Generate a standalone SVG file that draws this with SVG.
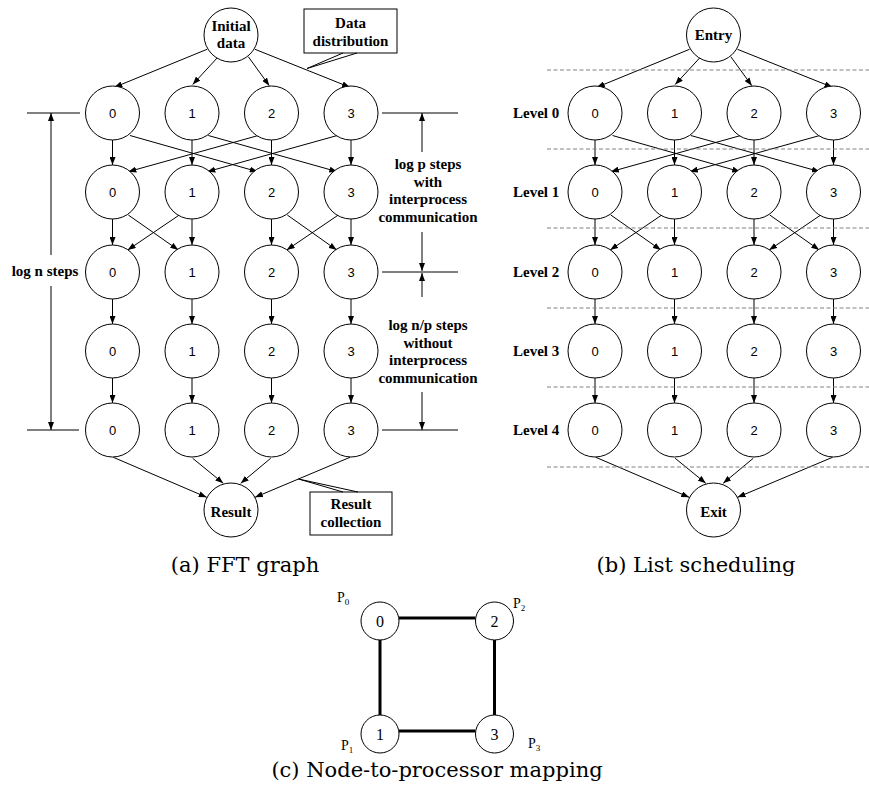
<svg xmlns="http://www.w3.org/2000/svg" width="869" height="798" viewBox="0 0 869 798">
<style>
.nd{fill:#fff;stroke:#000;stroke-width:1}
.num{font-family:"Liberation Sans",Arial,sans-serif;font-size:13px;text-anchor:middle;fill:#000}
.bl{font-family:"Liberation Serif","Times New Roman",serif;font-weight:bold;font-size:15px;fill:#000}
.mid{text-anchor:middle}
.e{fill:none;stroke:#000;stroke-width:1;marker-end:url(#ah)}
.ln{fill:none;stroke:#000;stroke-width:1}
.dash{fill:none;stroke:#808080;stroke-width:1;stroke-dasharray:4 2.5}
.cap{font-family:"DejaVu Serif",serif;font-size:21px;text-anchor:middle;fill:#000}
.thick{fill:none;stroke:#000;stroke-width:3}
.sn{font-family:"Liberation Serif","Times New Roman",serif;font-size:16px;text-anchor:middle;fill:#000}
.pl{font-family:"Liberation Serif","Times New Roman",serif;font-size:14px;fill:#000}
</style>
<defs>
<marker id="ah" markerUnits="userSpaceOnUse" markerWidth="8" markerHeight="6" refX="8" refY="3" orient="auto">
<path d="M0,0 L8,3 L0,6 z" fill="#000"/>
</marker>
</defs>

<!-- (a) connectors -->
<g id="connectors-a">
<path class="e" d="M207,49.3 L114.3,87.3"/>
<path class="e" d="M218.3,56.7 L192.7,84.5"/>
<path class="e" d="M248.3,56.7 L269.3,85.7"/>
<path class="e" d="M255,49.3 L350,87.3"/>
<path class="e" d="M112.5,140 L112.5,165"/>
<path class="e" d="M192,140 L192,165"/>
<path class="e" d="M271.5,140 L271.5,165"/>
<path class="e" d="M351,140 L351,165"/>
<path class="e" d="M130,135.5 L257.7,171.7"/>
<path class="e" d="M208.3,135.5 L337.3,171.7"/>
<path class="e" d="M258.3,135.5 L128.3,171.7"/>
<path class="e" d="M337.3,135.5 L207.3,171.7"/>
<path class="e" d="M112.5,219 L112.5,245"/>
<path class="e" d="M192,219 L192,245"/>
<path class="e" d="M271.5,219 L271.5,245"/>
<path class="e" d="M351,219 L351,245"/>
<path class="e" d="M128.3,215 L178.3,250"/>
<path class="e" d="M179.3,215 L127.7,250"/>
<path class="e" d="M287.3,215 L336.7,250"/>
<path class="e" d="M338.3,215 L286.7,250"/>
<path class="e" d="M112.5,299 L112.5,324"/>
<path class="e" d="M192,299 L192,324"/>
<path class="e" d="M271.5,299 L271.5,324"/>
<path class="e" d="M351,299 L351,324"/>
<path class="e" d="M112.5,378 L112.5,403"/>
<path class="e" d="M192,378 L192,403"/>
<path class="e" d="M271.5,378 L271.5,403"/>
<path class="e" d="M351,378 L351,403"/>
<path class="e" d="M113.3,457.3 L206.7,497.3"/>
<path class="e" d="M192.7,458.3 L223.3,483.3"/>
<path class="e" d="M270.7,458.3 L240.7,483.3"/>
<path class="e" d="M350,457.3 L255,497.3"/>
</g>

<!-- (b) connectors: same geometry shifted -->
<g id="connectors-b" transform="translate(482.5,0)">
<path class="e" d="M207,49.3 L114.3,87.3"/>
<path class="e" d="M218.3,56.7 L192.7,84.5"/>
<path class="e" d="M248.3,56.7 L269.3,85.7"/>
<path class="e" d="M255,49.3 L350,87.3"/>
<path class="e" d="M112.5,140 L112.5,165"/>
<path class="e" d="M192,140 L192,165"/>
<path class="e" d="M271.5,140 L271.5,165"/>
<path class="e" d="M351,140 L351,165"/>
<path class="e" d="M130,135.5 L257.7,171.7"/>
<path class="e" d="M208.3,135.5 L337.3,171.7"/>
<path class="e" d="M258.3,135.5 L128.3,171.7"/>
<path class="e" d="M337.3,135.5 L207.3,171.7"/>
<path class="e" d="M112.5,219 L112.5,245"/>
<path class="e" d="M192,219 L192,245"/>
<path class="e" d="M271.5,219 L271.5,245"/>
<path class="e" d="M351,219 L351,245"/>
<path class="e" d="M128.3,215 L178.3,250"/>
<path class="e" d="M179.3,215 L127.7,250"/>
<path class="e" d="M287.3,215 L336.7,250"/>
<path class="e" d="M338.3,215 L286.7,250"/>
<path class="e" d="M112.5,299 L112.5,324"/>
<path class="e" d="M192,299 L192,324"/>
<path class="e" d="M271.5,299 L271.5,324"/>
<path class="e" d="M351,299 L351,324"/>
<path class="e" d="M112.5,378 L112.5,403"/>
<path class="e" d="M192,378 L192,403"/>
<path class="e" d="M271.5,378 L271.5,403"/>
<path class="e" d="M351,378 L351,403"/>
<path class="e" d="M113.3,457.3 L206.7,497.3"/>
<path class="e" d="M192.7,458.3 L223.3,483.3"/>
<path class="e" d="M270.7,458.3 L240.7,483.3"/>
<path class="e" d="M350,457.3 L255,497.3"/>
</g>

<!-- (c) connectors -->
<g id="connectors-c">
<path class="thick" d="M399,618 L475.5,618"/>
<path class="thick" d="M399,731 L475.5,731"/>
<path class="thick" d="M380,640 L380,715"/>
<path class="thick" d="M494.5,640 L494.5,715"/>
</g>

<!-- (a) annotations -->
<g id="annot-left">
<path class="ln" d="M27,113 L80,113 M27,430 L79,430"/>
<path class="e" d="M51,255 L51,113"/>
<path class="e" d="M51,286 L51,430"/>
<text class="bl mid" x="45" y="276">log n steps</text>
</g>
<g id="annot-right">
<path class="ln" d="M382,113 L458,113 M382,272 L458,272 M382,430 L458,430"/>
<path class="e" d="M422,152 L422,113"/>
<path class="e" d="M422,232 L422,271"/>
<path class="e" d="M422,297 L422,273"/>
<path class="e" d="M422,392 L422,430"/>
<text class="bl mid" x="428" y="169">log p steps</text>
<text class="bl mid" x="428" y="186.5">with</text>
<text class="bl mid" x="428" y="204">interprocess</text>
<text class="bl mid" x="428" y="221.5">communication</text>
<text class="bl mid" x="428" y="330">log n/p steps</text>
<text class="bl mid" x="428" y="347.5">without</text>
<text class="bl mid" x="428" y="365">interprocess</text>
<text class="bl mid" x="428" y="382.5">communication</text>
</g>
<g id="callout-data">
<rect x="304" y="9" width="93" height="44" fill="#fff" stroke="#000"/>
<path class="ln" d="M343,53 L307,68.5 L357,53"/>
<text class="bl mid" x="350.5" y="28">Data</text>
<text class="bl mid" x="350.5" y="45.5">distribution</text>
</g>
<g id="callout-result">
<rect x="310" y="492" width="82" height="43" fill="#fff" stroke="#000"/>
<path class="ln" d="M343,492 L298.5,479 L358,492"/>
<text class="bl mid" x="351" y="509">Result</text>
<text class="bl mid" x="351" y="527">collection</text>
</g>

<!-- (a) nodes -->
<g id="a-initial"><circle class="nd" cx="231" cy="35" r="27"/><text class="bl mid" x="231" y="31">Initial</text><text class="bl mid" x="231" y="48">data</text></g>
<g id="a-r0-0"><circle class="nd" cx="112.5" cy="113" r="27"/><text class="num" x="112.5" y="118">0</text></g>
<g id="a-r0-1"><circle class="nd" cx="192" cy="113" r="27"/><text class="num" x="192" y="118">1</text></g>
<g id="a-r0-2"><circle class="nd" cx="271.5" cy="113" r="27"/><text class="num" x="271.5" y="118">2</text></g>
<g id="a-r0-3"><circle class="nd" cx="351" cy="113" r="27"/><text class="num" x="351" y="118">3</text></g>
<g id="a-r1-0"><circle class="nd" cx="112.5" cy="192" r="27"/><text class="num" x="112.5" y="197">0</text></g>
<g id="a-r1-1"><circle class="nd" cx="192" cy="192" r="27"/><text class="num" x="192" y="197">1</text></g>
<g id="a-r1-2"><circle class="nd" cx="271.5" cy="192" r="27"/><text class="num" x="271.5" y="197">2</text></g>
<g id="a-r1-3"><circle class="nd" cx="351" cy="192" r="27"/><text class="num" x="351" y="197">3</text></g>
<g id="a-r2-0"><circle class="nd" cx="112.5" cy="272" r="27"/><text class="num" x="112.5" y="277">0</text></g>
<g id="a-r2-1"><circle class="nd" cx="192" cy="272" r="27"/><text class="num" x="192" y="277">1</text></g>
<g id="a-r2-2"><circle class="nd" cx="271.5" cy="272" r="27"/><text class="num" x="271.5" y="277">2</text></g>
<g id="a-r2-3"><circle class="nd" cx="351" cy="272" r="27"/><text class="num" x="351" y="277">3</text></g>
<g id="a-r3-0"><circle class="nd" cx="112.5" cy="351" r="27"/><text class="num" x="112.5" y="356">0</text></g>
<g id="a-r3-1"><circle class="nd" cx="192" cy="351" r="27"/><text class="num" x="192" y="356">1</text></g>
<g id="a-r3-2"><circle class="nd" cx="271.5" cy="351" r="27"/><text class="num" x="271.5" y="356">2</text></g>
<g id="a-r3-3"><circle class="nd" cx="351" cy="351" r="27"/><text class="num" x="351" y="356">3</text></g>
<g id="a-r4-0"><circle class="nd" cx="112.5" cy="430" r="27"/><text class="num" x="112.5" y="435">0</text></g>
<g id="a-r4-1"><circle class="nd" cx="192" cy="430" r="27"/><text class="num" x="192" y="435">1</text></g>
<g id="a-r4-2"><circle class="nd" cx="271.5" cy="430" r="27"/><text class="num" x="271.5" y="435">2</text></g>
<g id="a-r4-3"><circle class="nd" cx="351" cy="430" r="27"/><text class="num" x="351" y="435">3</text></g>
<g id="a-result"><circle class="nd" cx="231" cy="510" r="27"/><text class="bl mid" x="231" y="517">Result</text></g>

<!-- (b) levels -->
<g id="b-levels">
<path class="dash" d="M547,70 L869,70 M547,149 L869,149 M547,228 L869,228 M547,308 L869,308 M547,387 L869,387 M547,467 L869,467"/>
<text class="bl" x="513" y="118">Level 0</text>
<text class="bl" x="513" y="197">Level 1</text>
<text class="bl" x="513" y="277">Level 2</text>
<text class="bl" x="513" y="356">Level 3</text>
<text class="bl" x="513" y="435">Level 4</text>
</g>

<!-- (b) nodes -->
<g id="b-entry"><circle class="nd" cx="713.5" cy="35" r="27"/><text class="bl mid" x="713.5" y="40">Entry</text></g>
<g id="b-r0-0"><circle class="nd" cx="595" cy="113" r="27"/><text class="num" x="595" y="118">0</text></g>
<g id="b-r0-1"><circle class="nd" cx="674.5" cy="113" r="27"/><text class="num" x="674.5" y="118">1</text></g>
<g id="b-r0-2"><circle class="nd" cx="754" cy="113" r="27"/><text class="num" x="754" y="118">2</text></g>
<g id="b-r0-3"><circle class="nd" cx="833.5" cy="113" r="27"/><text class="num" x="833.5" y="118">3</text></g>
<g id="b-r1-0"><circle class="nd" cx="595" cy="192" r="27"/><text class="num" x="595" y="197">0</text></g>
<g id="b-r1-1"><circle class="nd" cx="674.5" cy="192" r="27"/><text class="num" x="674.5" y="197">1</text></g>
<g id="b-r1-2"><circle class="nd" cx="754" cy="192" r="27"/><text class="num" x="754" y="197">2</text></g>
<g id="b-r1-3"><circle class="nd" cx="833.5" cy="192" r="27"/><text class="num" x="833.5" y="197">3</text></g>
<g id="b-r2-0"><circle class="nd" cx="595" cy="272" r="27"/><text class="num" x="595" y="277">0</text></g>
<g id="b-r2-1"><circle class="nd" cx="674.5" cy="272" r="27"/><text class="num" x="674.5" y="277">1</text></g>
<g id="b-r2-2"><circle class="nd" cx="754" cy="272" r="27"/><text class="num" x="754" y="277">2</text></g>
<g id="b-r2-3"><circle class="nd" cx="833.5" cy="272" r="27"/><text class="num" x="833.5" y="277">3</text></g>
<g id="b-r3-0"><circle class="nd" cx="595" cy="351" r="27"/><text class="num" x="595" y="356">0</text></g>
<g id="b-r3-1"><circle class="nd" cx="674.5" cy="351" r="27"/><text class="num" x="674.5" y="356">1</text></g>
<g id="b-r3-2"><circle class="nd" cx="754" cy="351" r="27"/><text class="num" x="754" y="356">2</text></g>
<g id="b-r3-3"><circle class="nd" cx="833.5" cy="351" r="27"/><text class="num" x="833.5" y="356">3</text></g>
<g id="b-r4-0"><circle class="nd" cx="595" cy="430" r="27"/><text class="num" x="595" y="435">0</text></g>
<g id="b-r4-1"><circle class="nd" cx="674.5" cy="430" r="27"/><text class="num" x="674.5" y="435">1</text></g>
<g id="b-r4-2"><circle class="nd" cx="754" cy="430" r="27"/><text class="num" x="754" y="435">2</text></g>
<g id="b-r4-3"><circle class="nd" cx="833.5" cy="430" r="27"/><text class="num" x="833.5" y="435">3</text></g>
<g id="b-exit"><circle class="nd" cx="713.5" cy="510" r="27"/><text class="bl mid" x="713.5" y="517">Exit</text></g>

<!-- (c) nodes -->
<g id="c-0"><circle class="nd" cx="380" cy="621" r="19"/><text class="sn" x="380" y="627">0</text><text class="pl" x="337" y="602">P<tspan font-size="9" dy="3">0</tspan></text></g>
<g id="c-2"><circle class="nd" cx="494.5" cy="621" r="19"/><text class="sn" x="494.5" y="627">2</text><text class="pl" x="513" y="608">P<tspan font-size="9" dy="3">2</tspan></text></g>
<g id="c-1"><circle class="nd" cx="380" cy="734" r="19"/><text class="sn" x="380" y="740">1</text><text class="pl" x="341" y="750">P<tspan font-size="9" dy="3">1</tspan></text></g>
<g id="c-3"><circle class="nd" cx="494.5" cy="734" r="19"/><text class="sn" x="494.5" y="740">3</text><text class="pl" x="528" y="748">P<tspan font-size="9" dy="3">3</tspan></text></g>

<!-- captions -->
<text class="cap" x="245" y="572">(a) FFT graph</text>
<text class="cap" x="696" y="572">(b) List scheduling</text>
<text class="cap" x="437" y="777">(c) Node-to-processor mapping</text>
</svg>
